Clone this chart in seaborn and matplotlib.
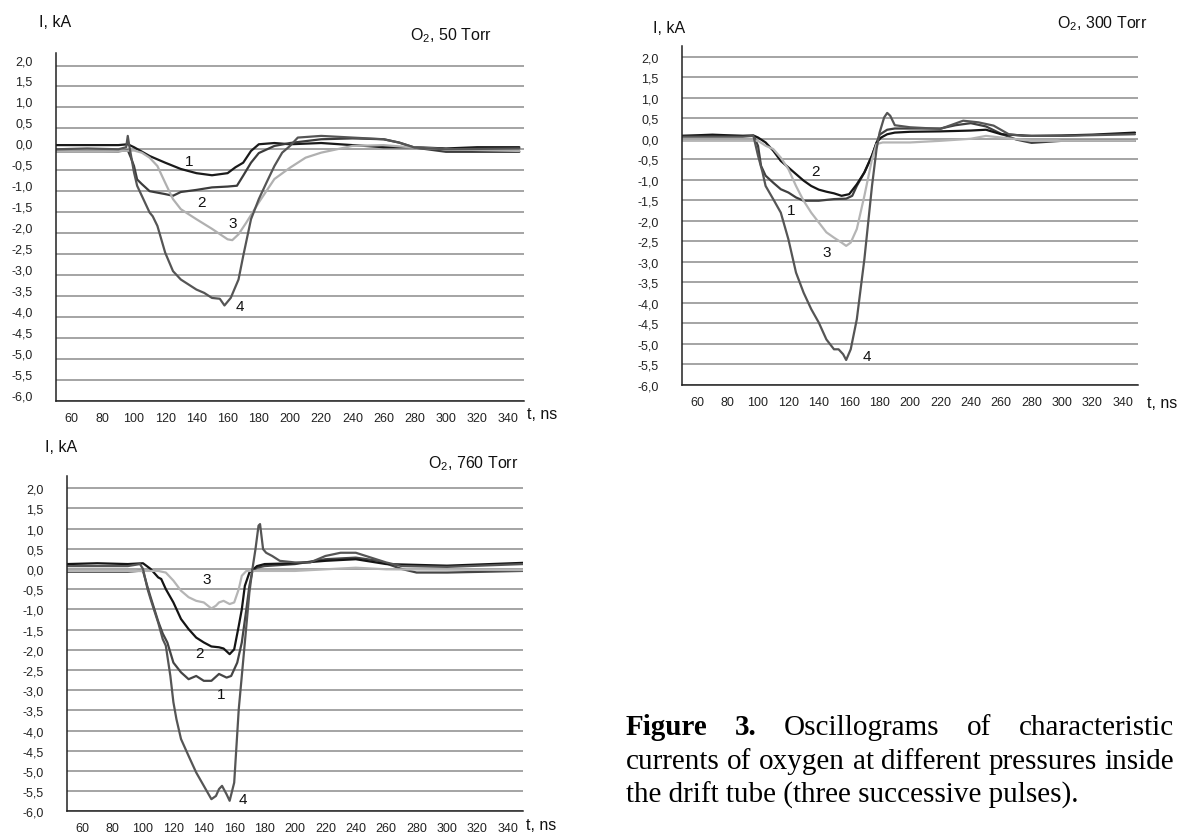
import numpy as np
import pandas as pd
import matplotlib
matplotlib.use("Agg")
import matplotlib.pyplot as plt
from matplotlib.ticker import FixedLocator, MultipleLocator, FuncFormatter
from matplotlib.transforms import ScaledTranslation
import seaborn as sns

# ---- data (t in ns, I in kA) ----
# 50 Torr
t50_1 = [50, 70, 90, 96, 100, 110, 120, 130, 140, 150, 160, 165, 170, 175, 180, 190, 200, 220, 240, 260, 280, 300, 320, 347]
i50_1 = [0.1, 0.1, 0.1, 0.12, 0.05, -0.16, -0.32, -0.47, -0.57, -0.62, -0.57, -0.43, -0.32, -0.04, 0.12, 0.15, 0.12, 0.15, 0.1, 0.05, 0.05, 0.02, 0.05, 0.05]
t50_2 = [50, 70, 90, 96, 98, 100, 102, 105, 110, 120, 125, 130, 140, 150, 160, 166, 170, 175, 180, 190, 200, 220, 240, 260, 270, 280, 300, 347]
i50_2 = [-0.05, -0.05, -0.05, -0.02, -0.2, -0.4, -0.72, -0.83, -1.0, -1.07, -1.11, -1.02, -0.97, -0.91, -0.89, -0.87, -0.63, -0.32, -0.09, 0.08, 0.15, 0.24, 0.26, 0.24, 0.16, 0.04, -0.06, -0.06]
t50_3 = [50, 80, 100, 105, 110, 115, 120, 125, 130, 140, 150, 160, 163, 167, 172, 180, 190, 200, 210, 220, 230, 240, 260, 280, 300, 347]
i50_3 = [-0.05, -0.05, -0.03, -0.08, -0.2, -0.4, -0.8, -1.19, -1.43, -1.67, -1.9, -2.15, -2.17, -2.03, -1.75, -1.27, -0.71, -0.44, -0.2, -0.08, 0.0, 0.08, 0.1, 0.04, 0.0, -0.04]
t50_4 = [50, 70, 90, 95, 96, 97, 100, 102, 105, 110, 112, 115, 120, 125, 130, 140, 145, 150, 155, 158, 162, 167, 170, 175, 180, 185, 190, 195, 200, 205, 220, 240, 260, 270, 280, 300, 347]
i50_4 = [0.0, 0.02, 0.0, 0.05, 0.32, 0.08, -0.55, -0.87, -1.11, -1.51, -1.6, -1.83, -2.47, -2.91, -3.11, -3.35, -3.43, -3.55, -3.57, -3.73, -3.55, -3.11, -2.55, -1.67, -1.19, -0.79, -0.4, -0.08, 0.08, 0.28, 0.32, 0.28, 0.24, 0.16, 0.04, 0.0, 0.02]

# 300 Torr
t300_1 = [50, 70, 90, 97, 100, 102, 105, 110, 115, 120, 125, 130, 140, 150, 158, 162, 165, 170, 175, 180, 185, 190, 200, 220, 230, 240, 250, 260, 270, 280, 300, 320, 348]
i300_1 = [0.07, 0.07, 0.07, 0.07, -0.17, -0.66, -0.9, -1.07, -1.23, -1.31, -1.43, -1.51, -1.51, -1.47, -1.46, -1.39, -1.15, -0.82, -0.41, 0.1, 0.22, 0.25, 0.25, 0.25, 0.33, 0.38, 0.3, 0.12, -0.02, -0.1, -0.05, -0.05, -0.05]
t300_2 = [50, 70, 90, 97, 100, 105, 110, 115, 120, 125, 130, 135, 140, 145, 150, 155, 160, 165, 170, 175, 178, 181, 185, 190, 200, 220, 240, 250, 260, 280, 300, 320, 348]
i300_2 = [0.07, 0.1, 0.07, 0.08, 0.03, -0.09, -0.29, -0.54, -0.7, -0.86, -1.02, -1.15, -1.24, -1.29, -1.33, -1.39, -1.35, -1.11, -0.82, -0.41, -0.09, 0.03, 0.11, 0.15, 0.17, 0.18, 0.2, 0.22, 0.11, 0.07, 0.08, 0.1, 0.15]
t300_3 = [50, 80, 100, 105, 110, 115, 120, 125, 130, 135, 140, 145, 150, 155, 158, 161, 165, 170, 175, 178, 182, 200, 220, 240, 250, 260, 280, 348]
i300_3 = [-0.05, -0.05, -0.05, -0.17, -0.25, -0.46, -0.74, -1.15, -1.51, -1.8, -2.04, -2.28, -2.41, -2.53, -2.61, -2.53, -2.2, -1.39, -0.5, -0.13, -0.09, -0.09, -0.05, 0.0, 0.07, 0.03, -0.05, -0.05]
t300_4 = [50, 70, 90, 97, 100, 103, 105, 110, 115, 120, 125, 130, 135, 140, 145, 150, 153, 156, 158, 161, 165, 170, 175, 178, 180, 183, 185, 187, 190, 200, 220, 235, 245, 255, 265, 275, 300, 348]
i300_4 = [0.05, 0.05, 0.05, 0.07, -0.41, -0.82, -1.15, -1.47, -1.8, -2.45, -3.26, -3.75, -4.15, -4.48, -4.89, -5.13, -5.13, -5.25, -5.39, -5.13, -4.4, -2.93, -1.15, -0.25, 0.15, 0.52, 0.63, 0.56, 0.33, 0.28, 0.24, 0.44, 0.4, 0.32, 0.11, 0.07, 0.07, 0.11]

# 760 Torr
t760_1 = [50, 70, 90, 97, 100, 103, 105, 110, 113, 116, 120, 125, 130, 135, 140, 145, 150, 155, 158, 162, 165, 168, 170, 172, 175, 180, 200, 220, 240, 255, 270, 280, 300, 350]
i760_1 = [-0.07, -0.07, -0.07, -0.05, -0.05, -0.45, -0.7, -1.3, -1.6, -1.82, -2.32, -2.56, -2.73, -2.65, -2.77, -2.77, -2.6, -2.69, -2.65, -2.32, -1.82, -1.0, -0.42, -0.05, 0.03, 0.07, 0.12, 0.24, 0.28, 0.2, 0.0, -0.09, -0.09, -0.05]
t760_2 = [50, 70, 90, 100, 105, 110, 112, 115, 120, 125, 130, 135, 140, 145, 150, 153, 157, 160, 163, 165, 167, 170, 175, 180, 200, 220, 240, 260, 280, 300, 350]
i760_2 = [0.12, 0.14, 0.12, 0.14, 0.0, -0.21, -0.25, -0.5, -0.83, -1.24, -1.49, -1.7, -1.82, -1.92, -1.94, -1.97, -2.11, -1.99, -1.41, -1.0, -0.42, -0.09, 0.07, 0.12, 0.14, 0.2, 0.24, 0.12, 0.1, 0.08, 0.15]
t760_3 = [50, 80, 110, 115, 120, 125, 130, 135, 140, 145, 148, 150, 153, 157, 160, 163, 165, 168, 200, 240, 260, 350]
i760_3 = [-0.05, -0.05, -0.05, -0.09, -0.29, -0.54, -0.7, -0.79, -0.83, -0.98, -0.91, -0.83, -0.79, -0.87, -0.83, -0.5, -0.17, -0.05, -0.05, 0.03, -0.01, -0.03]
t760_4 = [50, 70, 90, 98, 100, 103, 105, 110, 113, 115, 118, 120, 122, 125, 130, 135, 140, 145, 148, 150, 152, 155, 157, 160, 163, 165, 168, 170, 172, 174, 176, 177, 178, 179, 181, 185, 190, 200, 210, 220, 230, 240, 250, 260, 270, 300, 350]
i760_4 = [0.07, 0.07, 0.07, 0.12, 0.0, -0.5, -0.75, -1.33, -1.74, -1.9, -2.65, -3.3, -3.72, -4.21, -4.63, -5.04, -5.37, -5.7, -5.62, -5.45, -5.37, -5.58, -5.74, -5.29, -3.47, -2.65, -1.41, -0.58, 0.0, 0.49, 1.07, 1.11, 0.8, 0.49, 0.4, 0.32, 0.2, 0.16, 0.16, 0.32, 0.4, 0.4, 0.28, 0.16, 0.07, 0.05, 0.12]

curve_ids = ["1", "2", "3", "4"]
label_pos_50 = [(135.5, -0.28), (143.4, -1.25), (163, -1.77), (168, -3.75)]
label_pos_300 = [(121.5, -1.73), (138.1, -0.78), (145.4, -2.75), (171.6, -5.29)]
label_pos_760 = [(151.7, -3.1), (137.5, -2.07), (141.8, -0.24), (165.9, -5.7)]

W, H = 1188, 837

sns.set_style("white")
plt.rcParams["font.family"] = ["Liberation Sans", "DejaVu Sans"]
plt.rcParams["mathtext.fontset"] = "custom"
plt.rcParams["mathtext.rm"] = "Liberation Sans"
plt.rcParams["mathtext.it"] = "Liberation Sans:italic"

fig = plt.figure(figsize=(W / 100, H / 100), dpi=100)
fig.patch.set_facecolor("white")


def px_axes(left, right, top, bottom):
    return fig.add_axes([left / W, 1 - bottom / H, (right - left) / W, (bottom - top) / H])


def fx(px):
    return px / W


def fy(py):
    return 1 - py / H


comma = FuncFormatter(lambda v, pos: f"{v:.1f}".replace(".", ","))


def style_axes(ax, xmax, ytop):
    ax.set_xlim(50, xmax)
    ax.set_ylim(-6.0, ytop)
    for s in ["top", "right"]:
        ax.spines[s].set_visible(False)
    for s in ["left", "bottom"]:
        ax.spines[s].set_color("#222222")
        ax.spines[s].set_linewidth(1.1)
    ax.xaxis.set_major_locator(FixedLocator(np.arange(60, 341, 20)))
    ax.xaxis.set_minor_locator(FixedLocator(np.arange(50, 351, 10)))
    ax.yaxis.set_major_locator(FixedLocator(np.arange(-6.0, 2.01, 0.5)))
    ax.yaxis.set_minor_locator(MultipleLocator(0.25))
    ax.yaxis.set_major_formatter(comma)
    ax.tick_params(axis="y", which="major", direction="in", length=5, width=1,
                   pad=17, labelsize=9, colors="#222222")
    ax.tick_params(axis="y", which="minor", direction="in", length=3, width=1, colors="#222222")
    ax.tick_params(axis="x", which="major", direction="out", length=4, width=1,
                   pad=4, labelsize=9, colors="#222222")
    ax.tick_params(axis="x", which="minor", direction="out", length=2.5, width=1, colors="#222222")
    ax.yaxis.grid(True, which="major", color="#8c8c8c", linewidth=1.1)
    ax.xaxis.grid(False)
    ax.set_axisbelow(True)
    ax.set_xlabel("")
    ax.set_ylabel("")


def draw_panel(ax, curves, colors, label_pos):
    for (t, i), c in zip(curves, colors):
        df = pd.DataFrame({"t": t, "I": i})
        sns.lineplot(data=df, x="t", y="I", ax=ax, color=c, linewidth=1.6,
                     estimator=None, sort=False)
    for cid, (tx, ty) in zip(curve_ids, label_pos):
        ax.text(tx, ty, cid, ha="center", va="center", fontsize=11, color="#111111")


# panel 1: 50 Torr
ax1 = px_axes(56, 524, 54, 401.5)
draw_panel(ax1, [(t50_1, i50_1), (t50_2, i50_2), (t50_3, i50_3), (t50_4, i50_4)],
           ["#1a1a1a", "#3c3c3c", "#b0b0b0", "#555555"], label_pos_50)
style_axes(ax1, 350, 2.3)
# in the scan the y labels of this panel sit a little above their grid lines
fig.canvas.draw()
shift = ScaledTranslation(0, 0.06, fig.dpi_scale_trans)
for lbl in ax1.get_yticklabels():
    lbl.set_transform(lbl.get_transform() + shift)

# panel 2: 300 Torr
ax2 = px_axes(682, 1138, 46.6, 386)
draw_panel(ax2, [(t300_1, i300_1), (t300_2, i300_2), (t300_3, i300_3), (t300_4, i300_4)],
           ["#404040", "#151515", "#b5b5b5", "#555555"], label_pos_300)
style_axes(ax2, 350, 2.27)

# panel 3: 760 Torr
ax3 = px_axes(67, 523, 477, 812.3)
draw_panel(ax3, [(t760_1, i760_1), (t760_2, i760_2), (t760_3, i760_3), (t760_4, i760_4)],
           ["#454545", "#141414", "#b5b5b5", "#555555"], label_pos_760)
style_axes(ax3, 350, 2.3)

# axis captions and titles
txt = dict(fontsize=11.5, color="#111111", va="baseline", ha="left")
fig.text(fx(39), fy(27), "I, kA", **txt)
fig.text(fx(410), fy(40), "O$_2$, 50 Torr", **txt)
fig.text(fx(527), fy(419), "t, ns", **txt)

fig.text(fx(653), fy(33), "I, kA", **txt)
fig.text(fx(1057), fy(28), "O$_2$, 300 Torr", **txt)
fig.text(fx(1147), fy(408), "t, ns", **txt)

fig.text(fx(45), fy(452), "I, kA", **txt)
fig.text(fx(428), fy(468), "O$_2$, 760 Torr", **txt)
fig.text(fx(526), fy(830), "t, ns", **txt)

# figure caption (justified like the paper)
cap_font = dict(fontsize=21, family=["Liberation Serif", "DejaVu Serif"], color="black", va="baseline")
cap_x0, cap_x1 = 626, 1174
renderer = fig.canvas.get_renderer()


def justified(words, y_px):
    items = [fig.text(0, fy(y_px), w, fontweight=wt, **cap_font) for w, wt in words]
    widths = [it.get_window_extent(renderer).width for it in items]
    gap = (cap_x1 - cap_x0 - sum(widths)) / (len(items) - 1)
    x = cap_x0
    for it, w in zip(items, widths):
        it.set_x(fx(x))
        x += w + gap


justified([("Figure", "bold"), ("3.", "bold"), ("Oscillograms", "normal"),
           ("of", "normal"), ("characteristic", "normal")], 735)
justified([(w, "normal") for w in "currents of oxygen at different pressures inside".split()], 769)
fig.text(fx(cap_x0), fy(803), "the drift tube (three successive pulses).", **cap_font)

fig.savefig("out.png", dpi=100)
